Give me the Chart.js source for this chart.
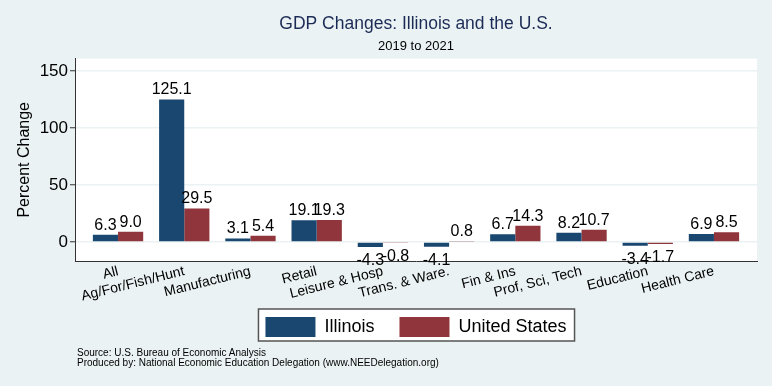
<!DOCTYPE html>
<html>
<head>
<meta charset="utf-8">
<script src="https://cdn.jsdelivr.net/npm/chart.js@4"></script>
<style>
  body { margin: 0; background: #eaf2f3; }
  #wrap { position: relative; width: 772px; height: 386px; }
  .src { position: absolute; left: 77px; font: 10px "Liberation Sans", Arial, sans-serif; color: #000; }
</style>
</head>
<body>
<div id="wrap">
  <canvas id="gdpChart" width="772" height="386"></canvas>
  <div class="src" style="top:347px">Source: U.S. Bureau of Economic Analysis</div>
  <div class="src" style="top:357px">Produced by: National Economic Education Delegation (www.NEEDelegation.org)</div>
</div>
<script>
const categories = ["All", "Ag/For/Fish/Hunt", "Manufacturing", "Retail", "Leisure & Hosp",
  "Trans. & Ware.", "Fin & Ins", "Prof, Sci, Tech", "Education", "Health Care"];
const illinois = [6.3, 125.1, 3.1, 19.1, -4.3, -4.1, 6.7, 8.2, -3.4, 6.9];
const unitedStates = [9.0, 29.5, 5.4, 19.3, -0.8, 0.8, 14.3, 10.7, -1.7, 8.5];
const yTicks = [0, 50, 100, 150];

const font = "'Liberation Sans', Arial, sans-serif";

// fond blanc de la zone du graphique
const plotBg = {
  id: "plotBg",
  beforeDraw(chart) {
    const { ctx, chartArea: a } = chart;
    ctx.save();
    ctx.fillStyle = "#ffffff";
    ctx.fillRect(a.left, a.top, a.right - a.left, a.bottom - a.top);
    ctx.restore();
  },
};

// les étiquettes inclinées dépassent l'axe x : on agrandit la zone de découpe
const xLabelRoom = {
  id: "xLabelRoom",
  afterLayout(chart) {
    chart.scales.x.bottom = chart.scales.x.top + 48;
  },
};

// valeurs au-dessus / en dessous des barres
const barValues = {
  id: "barValues",
  afterDatasetsDraw(chart) {
    const ctx = chart.ctx;
    ctx.save();
    ctx.font = "16px " + font;
    ctx.fillStyle = "#000";
    ctx.textAlign = "center";
    chart.data.datasets.forEach((ds, di) => {
      chart.getDatasetMeta(di).data.forEach((bar, i) => {
        const v = ds.data[i].y;
        if (v >= 0) {
          ctx.textBaseline = "alphabetic";
          ctx.fillText(v.toFixed(1), bar.x, bar.y - 5);
        } else {
          ctx.textBaseline = "top";
          ctx.fillText(v.toFixed(1), bar.x, bar.y + 6);
        }
      });
    });
    ctx.restore();
  },
};

// cadre autour de la légende
const legendFrame = {
  id: "legendFrame",
  beforeDraw(chart) {
    const boxes = chart.legend.legendHitBoxes;
    if (!boxes || !boxes.length) return;
    const left = Math.min(...boxes.map((b) => b.left)) - 7;
    const right = Math.max(...boxes.map((b) => b.left + b.width)) + 8;
    const top = Math.min(...boxes.map((b) => b.top)) - 8;
    const bottom = Math.max(...boxes.map((b) => b.top + b.height)) + 4;
    const ctx = chart.ctx;
    ctx.save();
    ctx.fillStyle = "#ffffff";
    ctx.fillRect(left, top, right - left, bottom - top);
    ctx.strokeStyle = "#555";
    ctx.lineWidth = 1.5;
    ctx.strokeRect(left, top, right - left, bottom - top);
    ctx.restore();
  },
};

new Chart(document.getElementById("gdpChart"), {
  type: "bar",
  data: {
    datasets: [
      {
        label: "Illinois",
        data: illinois.map((v, i) => ({ x: i, y: v })),
        backgroundColor: "#1a476f",
      },
      {
        label: "United States",
        data: unitedStates.map((v, i) => ({ x: i, y: v })),
        backgroundColor: "#90353b",
      },
    ],
  },
  options: {
    responsive: false,
    animation: false,
    categoryPercentage: 0.76,
    barPercentage: 1.0,
    layout: { padding: { left: 0, right: 15, bottom: 39 } },
    scales: {
      x: {
        type: "linear",
        offset: false,
        min: -0.65,
        max: 9.65,
        afterBuildTicks(scale) {
          scale.ticks = categories.map((c, i) => ({ value: i }));
        },
        afterFit(scale) {
          scale.height = 31;
        },
        ticks: {
          autoSkip: false,
          minRotation: 14,
          maxRotation: 14,
          padding: 2,
          color: "#000",
          font: { family: font, size: 14 },
          callback: (value) => categories[value],
        },
        grid: { display: false, drawTicks: false },
        border: { display: true, color: "#333", width: 1 },
      },
      y: {
        min: -16.7,
        max: 161,
        afterBuildTicks(scale) {
          scale.ticks = yTicks.map((v) => ({ value: v }));
        },
        afterFit(scale) {
          scale.width = 75;
        },
        ticks: {
          color: "#000",
          padding: 2,
          font: { family: font, size: 17 },
        },
        grid: {
          color: "#eaf2f3",
          lineWidth: 1.5,
          tickLength: 5,
          tickColor: "#333",
          tickWidth: 1,
        },
        border: { display: true, color: "#333", width: 1 },
        title: {
          display: true,
          text: "Percent Change",
          color: "#000",
          padding: { top: 15, bottom: 0 },
          font: { family: font, size: 16 },
        },
      },
    },
    plugins: {
      title: {
        display: true,
        fullSize: false,
        text: "GDP Changes: Illinois and the U.S.",
        color: "#1c2b55",
        padding: { top: 14, bottom: 4 },
        font: { family: font, size: 17.5, weight: "normal" },
      },
      subtitle: {
        display: true,
        fullSize: false,
        text: "2019 to 2021",
        color: "#000",
        padding: { bottom: 4 },
        font: { family: font, size: 13 },
      },
      legend: {
        position: "bottom",
        fullSize: false,
        labels: {
          boxWidth: 50,
          boxHeight: 20,
          padding: 25,
          color: "#000",
          font: { family: font, size: 18 },
        },
      },
      tooltip: { enabled: false },
    },
  },
  plugins: [plotBg, xLabelRoom, legendFrame, barValues],
});
</script>
</body>
</html>
